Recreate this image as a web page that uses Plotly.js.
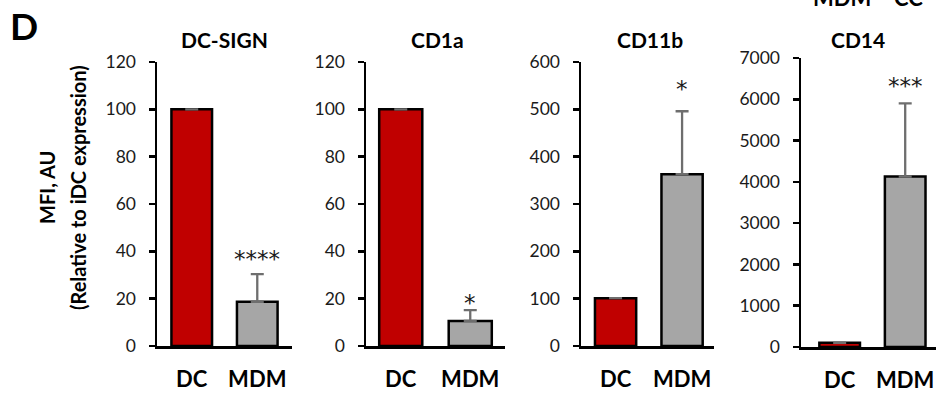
<!DOCTYPE html>
<html>
<head>
<meta charset="utf-8">
<script src="https://cdn.plot.ly/plotly-3.0.1.min.js"></script>
<style>html,body{margin:0;padding:0;background:#fff;}#chart{width:936px;height:394px;}</style>
</head>
<body>
<div id="chart"></div>
<script>
// ---- data ----
var categories = ["DC", "MDM"];
var panelTitles = ["DC-SIGN", "CD1a", "CD11b", "CD14"];
var dcsignMean = [100, 18.7];
var dcsignErr = [0, 11.7];
var cd1aMean = [100, 10.6];
var cd1aErr = [0, 4.6];
var cd11bMean = [101, 363];
var cd11bErr = [0, 133];
var cd14Mean = [100, 4130];
var cd14Err = [0, 1770];
var significance = ["****", "*", "*", "***"];
var yMax = [120, 120, 600, 7000];
var yStep = [20, 20, 100, 1000];
var yAxisTitleLines = ["MFI, AU", "(Relative to iDC expression)"];
var panelLetter = "D";
var cutLegend = ["MDM", "CC"];

// ---- layout helpers ----
var W = 936, H = 394;
var means = [dcsignMean, cd1aMean, cd11bMean, cd14Mean];
var errs = [dcsignErr, cd1aErr, cd11bErr, cd14Err];
var xPix = [[157, 292], [366, 505], [581, 714], [801, 936]];
var yPix = [[346, 62], [346, 62], [346, 62], [347, 58]];
var xRanges = [[-0.53, 1.53], [-0.5, 1.5], [-0.52, 1.48], [-0.59, 1.47]];
var starShift = [15, 7, 22, 17];
var titleX = [224, 437, 650, 858];
var FONT = "Lato, 'Open Sans', sans-serif";
var barColors = ["#C00000", "#A6A6A6"];

var data = [];
var layout = {
  width: W, height: H,
  margin: {l: 0, r: 0, t: 0, b: 0},
  paper_bgcolor: "#ffffff", plot_bgcolor: "rgba(0,0,0,0)",
  showlegend: false,
  font: {family: FONT, color: "#1a1a1a"},
  annotations: []
};

for (var i = 0; i < 4; i++) {
  var sfx = i === 0 ? "" : String(i + 1);
  data.push({
    type: "bar",
    x: categories,
    y: means[i],
    xaxis: "x" + sfx,
    yaxis: "y" + sfx,
    width: 0.62,
    marker: {color: barColors, line: {color: "#000000", width: 2.5}},
    error_y: {type: "data", symmetric: false, array: errs[i], arrayminus: [0, 0],
              color: "#6E6E6E", thickness: 2.3, width: 6.5, visible: true},
    hoverinfo: "none"
  });
  layout["xaxis" + sfx] = {
    domain: [xPix[i][0] / W, xPix[i][1] / W],
    anchor: "y" + sfx,
    type: "category",
    range: xRanges[i],
    showline: true, linecolor: "#000000", linewidth: 2.5,
    ticks: "", showgrid: false, zeroline: false,
    ticklabelstandoff: 12,
    tickfont: {family: FONT, size: 22, color: "#000000", weight: "bold"},
    fixedrange: true
  };
  layout["yaxis" + sfx] = {
    domain: [1 - yPix[i][0] / H, 1 - yPix[i][1] / H],
    anchor: "x" + sfx,
    range: [0, yMax[i]],
    dtick: yStep[i], tick0: 0,
    showline: true, linecolor: "#000000", linewidth: 2.5,
    ticks: "outside", ticklen: 6, tickwidth: 2.5, tickcolor: "#000000",
    showgrid: false, zeroline: false,
    ticklabelstandoff: 9,
    tickfont: {family: FONT, size: 17.5, color: "#1a1a1a"},
    fixedrange: true
  };
  layout.annotations.push({
    text: "<b>" + panelTitles[i] + "</b>",
    xref: "paper", yref: "paper",
    x: titleX[i] / W, y: 1 - 39 / H,
    xanchor: "center", yanchor: "middle",
    showarrow: false,
    font: {family: FONT, size: 21, color: "#000000"}
  });
  layout.annotations.push({
    text: significance[i],
    xref: "x" + sfx, yref: "y" + sfx,
    x: categories[1], y: means[i][1] + errs[i][1],
    xanchor: "center", yanchor: "middle",
    yshift: starShift[i],
    showarrow: false,
    font: {family: "'DejaVu Sans', sans-serif", size: 23, color: "#1a1a1a"}
  });
}

var titleLineX = [47, 78];
for (var k = 0; k < yAxisTitleLines.length; k++) {
  layout.annotations.push({
    text: "<b>" + yAxisTitleLines[k] + "</b>",
    xref: "paper", yref: "paper",
    x: titleLineX[k] / W, y: 1 - 188 / H,
    xanchor: "center", yanchor: "middle",
    textangle: -90, showarrow: false,
    font: {family: FONT, size: 20, color: "#000000"}
  });
}
layout.annotations.push({
  text: "<b>" + panelLetter + "</b>",
  xref: "paper", yref: "paper",
  x: 8 / W, y: 1 - 25 / H,
  xanchor: "left", yanchor: "middle",
  showarrow: false,
  font: {family: FONT, size: 37, color: "#000000"}
});
var cutX = [842, 908];
for (var c = 0; c < cutLegend.length; c++) {
  layout.annotations.push({
    text: "<b>" + cutLegend[c] + "</b>",
    xref: "paper", yref: "paper",
    x: cutX[c] / W, y: 1 - 13 / H,
    xanchor: "center", yanchor: "bottom",
    showarrow: false,
    font: {family: FONT, size: 22, color: "#000000"}
  });
}

Plotly.newPlot("chart", data, layout, {displayModeBar: false, staticPlot: true});
</script>
</body>
</html>
